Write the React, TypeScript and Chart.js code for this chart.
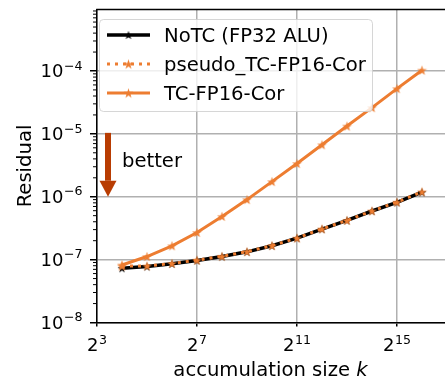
import React, { useEffect, useRef } from 'react';
import { Chart, registerables } from 'chart.js';

Chart.register(...registerables);

// ---- data ----
const sizes = [16, 32, 64, 128, 256, 512, 1024, 2048, 4096, 8192, 16384, 32768, 65536];
const noTC = [7.3e-8, 7.76e-8, 8.57e-8, 9.7e-8, 1.12e-7, 1.33e-7, 1.66e-7, 2.2e-7, 3.06e-7, 4.2e-7, 5.93e-7, 8.14e-7, 1.18e-6];
const pseudoTC = [7.9e-8, 7.95e-8, 8.7e-8, 9.8e-8, 1.13e-7, 1.34e-7, 1.67e-7, 2.2e-7, 3.08e-7, 4.2e-7, 5.95e-7, 8.2e-7, 1.2e-6];
const tcFP16 = [8.2e-8, 1.12e-7, 1.66e-7, 2.7e-7, 4.87e-7, 9.0e-7, 1.74e-6, 3.37e-6, 6.7e-6, 1.33e-5, 2.61e-5, 5.24e-5, 1.03e-4];
const seriesLabels = ['NoTC (FP32 ALU)', 'pseudo_TC-FP16-Cor', 'TC-FP16-Cor'];
const xTicks = [8, 128, 2048, 32768];
const xTickBase = ['2', '2', '2', '2'];
const xTickExp = ['3', '7', '11', '15'];
const yTicks = [1e-8, 1e-7, 1e-6, 1e-5, 1e-4];
const yTickBase = ['10', '10', '10', '10', '10'];
const yTickExp = ['\u22128', '\u22127', '\u22126', '\u22125', '\u22124'];
const xMin = 8;
const xMax = Math.pow(2, 16.92);
const yMin = 1e-8;
const yMax = 9.5e-4;
const xTitle = 'accumulation size ';
const xTitleVar = 'k';
const yTitle = 'Residual';
const annotationText = 'better';

const ORANGE = '#ed7d31';
const FONT = 'DejaVu Sans';
const TICK_SIZE = 18;
const SUP_SIZE = 12.6;
const LABEL_SIZE = 19.6;

function makeStar(size: number, fill: string) {
  const c = document.createElement('canvas');
  c.width = size;
  c.height = size;
  const ctx = c.getContext('2d')!;
  const cx = size / 2;
  const cy = size / 2 + 0.5;
  const R = size / 2 - 0.3;
  const r = R * 0.382;
  ctx.beginPath();
  for (let i = 0; i < 10; i++) {
    const a = -Math.PI / 2 + (i * Math.PI) / 5;
    const rad = i % 2 === 0 ? R : r;
    ctx.lineTo(cx + rad * Math.cos(a), cy + rad * Math.sin(a));
  }
  ctx.closePath();
  ctx.fillStyle = fill;
  ctx.fill();
  return c;
}

function measureSup(ctx: CanvasRenderingContext2D, base: string, sup: string) {
  ctx.font = `${TICK_SIZE}px ${FONT}`;
  const wb = ctx.measureText(base).width;
  ctx.font = `${SUP_SIZE}px ${FONT}`;
  const ws = ctx.measureText(sup).width;
  return { wb, ws };
}

function drawSup(ctx: CanvasRenderingContext2D, base: string, sup: string, x: number, baseline: number) {
  const { wb } = measureSup(ctx, base, sup);
  ctx.textAlign = 'left';
  ctx.textBaseline = 'alphabetic';
  ctx.font = `${TICK_SIZE}px ${FONT}`;
  ctx.fillText(base, x, baseline);
  ctx.font = `${SUP_SIZE}px ${FONT}`;
  ctx.fillText(sup, x + wb + 0.5, baseline - 7.8);
}

const customPlugin = {
  id: 'customDraw',
  afterDraw(chart: any) {
    const ctx = chart.ctx as CanvasRenderingContext2D;
    const { left, right, top, bottom } = chart.chartArea;
    const yScale = chart.scales.y;
    const xScale = chart.scales.x;
    ctx.save();

    // top spine
    ctx.strokeStyle = '#000';
    ctx.lineWidth = 1.5;
    ctx.beginPath();
    ctx.moveTo(left - 0.75, top);
    ctx.lineTo(right, top);
    ctx.stroke();

    // minor y ticks
    ctx.lineWidth = 1;
    for (let e = -8; e <= -3; e++) {
      for (let m = 2; m <= 9; m++) {
        const v = m * Math.pow(10, e);
        if (v < yMin || v > yMax) continue;
        const py = yScale.getPixelForValue(v);
        ctx.beginPath();
        ctx.moveTo(left - 4, py);
        ctx.lineTo(left, py);
        ctx.stroke();
      }
    }

    // tick labels (mathtext-like superscripts)
    ctx.fillStyle = '#000';
    yScale.ticks.forEach((t: any, i: number) => {
      const py = yScale.getPixelForValue(t.value);
      const { wb, ws } = measureSup(ctx, yTickBase[i], yTickExp[i]);
      const total = wb + 0.5 + ws;
      drawSup(ctx, yTickBase[i], yTickExp[i], 82.5 - total, py + 6.5);
    });
    xScale.ticks.forEach((t: any, i: number) => {
      const px = xScale.getPixelForValue(t.value);
      const { wb, ws } = measureSup(ctx, xTickBase[i], xTickExp[i]);
      const total = wb + 0.5 + ws;
      drawSup(ctx, xTickBase[i], xTickExp[i], px - total / 2, 351.3);
    });

    // arrow "better"
    const ay0 = yScale.getPixelForValue(1e-5);
    const ay1 = yScale.getPixelForValue(1e-6);
    const ax = left + 11;
    ctx.fillStyle = '#b83c02';
    ctx.fillRect(ax - 3, ay0 - 1, 6, ay1 - ay0 - 15);
    ctx.beginPath();
    ctx.moveTo(ax - 8.5, ay1 - 16);
    ctx.lineTo(ax + 8.5, ay1 - 16);
    ctx.lineTo(ax, ay1);
    ctx.closePath();
    ctx.fill();
    ctx.fillStyle = '#000';
    ctx.font = `${LABEL_SIZE}px ${FONT}`;
    ctx.textBaseline = 'alphabetic';
    ctx.textAlign = 'left';
    ctx.fillText(annotationText, left + 25, 166.5);

    // y title
    ctx.save();
    ctx.translate(31, (top + bottom) / 2);
    ctx.rotate(-Math.PI / 2);
    ctx.textAlign = 'center';
    ctx.textBaseline = 'alphabetic';
    ctx.font = `${LABEL_SIZE}px ${FONT}`;
    ctx.fillText(yTitle, 0, 0);
    ctx.restore();

    // x title
    ctx.font = `${LABEL_SIZE}px ${FONT}`;
    const w1 = ctx.measureText(xTitle).width;
    ctx.font = `italic ${LABEL_SIZE}px ${FONT}`;
    const w2 = ctx.measureText(xTitleVar).width;
    const cx = 270.5;
    const sx = cx - (w1 + w2) / 2;
    ctx.textAlign = 'left';
    ctx.font = `${LABEL_SIZE}px ${FONT}`;
    ctx.fillText(xTitle, sx, 376);
    ctx.font = `italic ${LABEL_SIZE}px ${FONT}`;
    ctx.fillText(xTitleVar, sx + w1, 376);

    // legend
    const bx = 99.5, by = 19.5, bw = 273, bh = 92, rr = 4;
    ctx.beginPath();
    ctx.moveTo(bx + rr, by);
    ctx.lineTo(bx + bw - rr, by);
    ctx.arcTo(bx + bw, by, bx + bw, by + rr, rr);
    ctx.lineTo(bx + bw, by + bh - rr);
    ctx.arcTo(bx + bw, by + bh, bx + bw - rr, by + bh, rr);
    ctx.lineTo(bx + rr, by + bh);
    ctx.arcTo(bx, by + bh, bx, by + bh - rr, rr);
    ctx.lineTo(bx, by + rr);
    ctx.arcTo(bx, by, bx + rr, by, rr);
    ctx.closePath();
    ctx.fillStyle = 'rgba(255,255,255,0.8)';
    ctx.fill();
    ctx.strokeStyle = 'rgba(204,204,204,0.8)';
    ctx.lineWidth = 1;
    ctx.stroke();

    const rows = [35, 64, 93];
    chart.data.datasets.forEach((ds: any, i: number) => {
      const ly = rows[i];
      ctx.save();
      ctx.strokeStyle = ds.borderColor;
      ctx.lineWidth = ds.borderWidth;
      ctx.setLineDash(ds.borderDash || []);
      ctx.beginPath();
      ctx.moveTo(107, ly);
      ctx.lineTo(150, ly);
      ctx.stroke();
      ctx.restore();
      const img = ds.pointStyle as HTMLCanvasElement;
      ctx.drawImage(img, 128.5 - img.width / 2, ly - img.height / 2);
      ctx.fillStyle = '#000';
      ctx.font = `${LABEL_SIZE}px ${FONT}`;
      ctx.textAlign = 'left';
      ctx.textBaseline = 'alphabetic';
      ctx.fillText(seriesLabels[i], 164, ly + 6.7);
    });

    ctx.restore();
  },
};

export default function App() {
  const ref = useRef<HTMLCanvasElement | null>(null);
  useEffect(() => {
    if (!ref.current) return;
    const blackStar = makeStar(10, '#000');
    const orangeStar = makeStar(11, ORANGE);
    const toPts = (arr: number[]) => sizes.map((s, i) => ({ x: s, y: arr[i] }));
    const chart = new Chart(ref.current, {
      type: 'line',
      data: {
        datasets: [
          {
            label: seriesLabels[0],
            data: toPts(noTC),
            borderColor: '#000',
            backgroundColor: '#000',
            borderWidth: 3.5,
            pointStyle: blackStar as any,
            pointRadius: 5,
            order: 3,
          },
          {
            label: seriesLabels[1],
            data: toPts(pseudoTC),
            borderColor: ORANGE,
            backgroundColor: ORANGE,
            borderWidth: 3,
            borderDash: [3, 5],
            borderCapStyle: 'butt',
            pointStyle: orangeStar as any,
            pointRadius: 5,
            order: 1,
          },
          {
            label: seriesLabels[2],
            data: toPts(tcFP16),
            borderColor: ORANGE,
            backgroundColor: ORANGE,
            borderWidth: 3,
            pointStyle: orangeStar as any,
            pointRadius: 5,
            order: 2,
          },
        ],
      } as any,
      options: {
        animation: false,
        responsive: false,
        maintainAspectRatio: false,
        layout: { autoPadding: false, padding: { top: 9.5, right: 0, left: 0, bottom: 0 } },
        plugins: { legend: { display: false }, tooltip: { enabled: false } },
        elements: { line: { tension: 0 } },
        scales: {
          x: {
            type: 'logarithmic',
            min: xMin,
            max: xMax,
            bounds: 'data',
            afterBuildTicks: (s: any) => {
              s.ticks = xTicks.map((v) => ({ value: v }));
            },
            afterFit: (s: any) => {
              s.height = 56.5;
              s.paddingLeft = 0;
              s.paddingRight = 0;
              s.paddingTop = 0;
              s.paddingBottom = 0;
            },
            ticks: { display: false, autoSkip: false, maxRotation: 0 },
            grid: { color: '#b0b0b0', lineWidth: 1.5, tickColor: '#000', tickLength: 4, tickWidth: 1.5 },
            border: { color: '#000', width: 1.5 },
          },
          y: {
            type: 'logarithmic',
            min: yMin,
            max: yMax,
            bounds: 'data',
            afterBuildTicks: (s: any) => {
              s.ticks = yTicks.map((v) => ({ value: v }));
            },
            afterFit: (s: any) => {
              s.width = 97;
              s.paddingLeft = 0;
              s.paddingRight = 0;
              s.paddingTop = 0;
              s.paddingBottom = 0;
            },
            ticks: { display: false, autoSkip: false },
            grid: { color: '#b0b0b0', lineWidth: 1.5, tickColor: '#000', tickLength: 7, tickWidth: 1.5 },
            border: { color: '#000', width: 1.5 },
          },
        },
      } as any,
      plugins: [customPlugin],
    });
    return () => chart.destroy();
  }, []);

  return (
    <div style={{ position: 'fixed', left: 0, top: 0, width: 445, height: 379, background: '#fff' }}>
      <canvas ref={ref} width={445} height={379} style={{ display: 'block' }} />
    </div>
  );
}
